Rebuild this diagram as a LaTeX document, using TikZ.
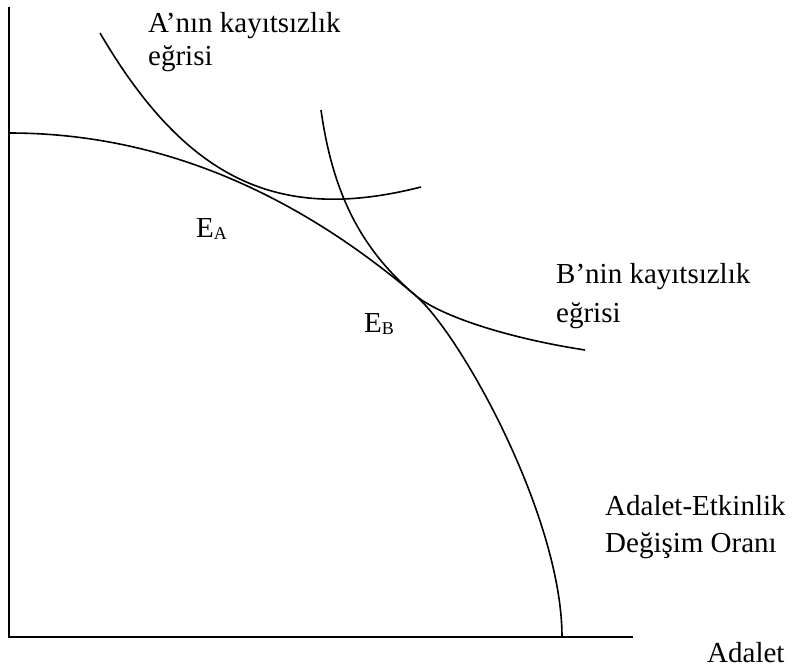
\documentclass[tikz,border=0pt]{standalone}
\usepackage{fontspec}
\setmainfont{Liberation Serif}
\begin{document}
\begin{tikzpicture}[x=1pt,y=-1pt,
  axis/.style={line width=2.8pt},
  curve/.style={line width=1.6pt},
  lbl/.style={anchor=base west,inner sep=0pt,font=\fontsize{29}{35}\selectfont}]
\useasboundingbox (0,0) rectangle (792,670);
% axes
\coordinate (top) at (9,7);
\coordinate (origin) at (9,637);
\coordinate (xend) at (633,637);
\draw[axis] (top) -- (origin) -- (xend);
% frontier (Adalet-Etkinlik Değişim Oranı)
\coordinate (fstart) at (9,133);
\coordinate (EBpt) at (415,295);
\coordinate (fend) at (562,637);
\draw[curve] (fstart) .. controls (152.6,133) and (287.9,187) .. (EBpt)
  .. controls (460.7,333.9) and (562,517) .. (fend);
% A indifference curve
\coordinate (astart) at (100,33);
\coordinate (aend) at (421,187);
\draw[curve] (astart) .. controls (189,185) and (283,222) .. (aend);
% B indifference curve
\coordinate (bstart) at (321,110);
\coordinate (bend) at (585,350);
\draw[curve] (bstart) .. controls (332.7,193.4) and (360.9,249) .. (EBpt)
  .. controls (439.8,316.1) and (507.9,338.1) .. (bend);
% labels
\node[lbl] (a1) at (148,32) {A’nın kayıtsızlık};
\node[lbl] (a2) at (148,65) {eğrisi};
\node[lbl] (b1) at (556,283) {B’nin kayıtsızlık};
\node[lbl] (b2) at (556,322) {eğrisi};
\node[lbl] (f1) at (605,515) {Adalet-Etkinlik};
\node[lbl] (f2) at (605,552) {Değişim Oranı};
\node[lbl] (xl) at (707,662) {Adalet};
\node[lbl] (ea) at (196,237) {E\raisebox{-2pt}{\fontsize{18}{18}\selectfont A}};
\node[lbl] (eb) at (364,332) {E\raisebox{-2pt}{\fontsize{18}{18}\selectfont B}};
\end{tikzpicture}
\end{document}
